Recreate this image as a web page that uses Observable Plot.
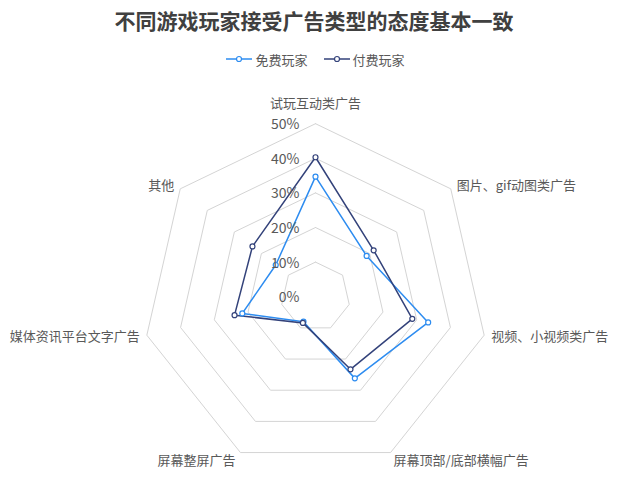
<!DOCTYPE html>
<html><head><meta charset="utf-8">
<script src="https://cdn.jsdelivr.net/npm/d3@7"></script>
<script src="https://cdn.jsdelivr.net/npm/@observablehq/plot@0.6"></script>
<style>
body{margin:0;background:#fff;font-family:"Noto Sans CJK SC","Noto Sans",sans-serif;width:623px;overflow:hidden;}
#title{height:40px;line-height:40px;text-align:center;font-size:21px;font-weight:bold;color:#404040;padding-left:5px;box-sizing:border-box;}
#legend{height:38px;display:flex;justify-content:center;align-items:center;font-size:13px;color:#595959;padding-left:8px;box-sizing:border-box;}
.item{display:flex;align-items:center;margin:0 8px;}
.item svg{margin-right:3px;}
#chart svg{display:block;}
</style>
</head><body>
<div id="title">不同游戏玩家接受广告类型的态度基本一致</div>
<div id="legend"></div>
<div id="chart"></div>
<script>
const categories = ["试玩互动类广告","图片、gif动图类广告","视频、小视频类广告","屏幕顶部/底部横幅广告","屏幕整屏广告","媒体资讯平台文字广告","其他"];
const freeValues = [34.7, 18.9, 33.4, 26.2, 8.0, 21.7, 14.7];
const paidValues = [40.3, 21.5, 28.7, 23.3, 8.4, 24.0, 23.3];
const seriesNames = ["免费玩家","付费玩家"];
const seriesColors = ["#2d8cf0","#33427a"];
const ringLevels = [10,20,30,40,50];
const tickValues = [0,10,20,30,40,50];
const tickLabels = ["0%","10%","20%","30%","40%","50%"];

// legend
const legend = document.getElementById("legend");
seriesNames.forEach((s,i) => {
  const it = document.createElement("div");
  it.className = "item";
  it.innerHTML = `<svg width="26" height="10"><line x1="0" x2="26" y1="5" y2="5" stroke="${seriesColors[i]}" stroke-width="1.5"/><circle cx="13" cy="5" r="2.5" fill="white" stroke="${seriesColors[i]}" stroke-width="1.2"/></svg><span>${s}</span>`;
  legend.appendChild(it);
});

const n = categories.length;
const ang = i => 2*Math.PI*i/n;
const px = (i,v) => v*Math.sin(ang(i));
const py = (i,v) => v*Math.cos(ang(i));
const maxR = d3.max(ringLevels);

const rings = ringLevels.flatMap(r => d3.range(n+1).map(i => ({r, x: px(i % n, r), y: py(i % n, r)})));
const series = [[seriesNames[0], freeValues],[seriesNames[1], paidValues]]
  .flatMap(([s, vals]) => vals.map((v,i) => ({series: s, category: categories[i], x: px(i,v), y: py(i,v)})));
const labelData = categories.map((c,i) => ({category: c, x: px(i,maxR), y: py(i,maxR)}));
const labelStyle = [
  {textAnchor:"middle", dx:0, dy:-20},
  {textAnchor:"start", dx:6, dy:-3},
  {textAnchor:"start", dx:7, dy:2},
  {textAnchor:"start", dx:3, dy:8},
  {textAnchor:"end", dx:-5, dy:8},
  {textAnchor:"end", dx:-7, dy:2},
  {textAnchor:"end", dx:-6, dy:-3}
];

const W = 623, H = 402, cx = 315, cy = 218.2, R = 173;
const plot = Plot.plot({
  width: W, height: H,
  marginLeft: cx - R, marginRight: W - (cx + R),
  marginTop: cy - R, marginBottom: H - (cy + R),
  x: {domain: [-maxR, maxR], axis: null},
  y: {domain: [-maxR, maxR], axis: null},
  color: {domain: seriesNames, range: seriesColors},
  style: {fontFamily: '"Noto Sans CJK SC","Noto Sans",sans-serif', fontSize: "13px", background: "white"},
  marks: [
    Plot.line(rings, {x: "x", y: "y", z: "r", stroke: "#d4d4d4", strokeWidth: 1}),
    Plot.line(series, {x: "x", y: "y", z: "series", stroke: "series", curve: "linear-closed", strokeWidth: 1.5}),
    Plot.dot(series, {x: "x", y: "y", stroke: "series", fill: "white", r: 2.5, strokeWidth: 1.2}),
    Plot.text(tickValues, {x: () => 0, y: d => d, text: (d,i) => tickLabels[i], textAnchor: "end", dx: -16, dy: 1, fill: "#595959", fontSize: 14}),
    ...labelData.map((d,i) => Plot.text([d], {x: "x", y: "y", text: "category", fill: "#595959", fontSize: 13, ...labelStyle[i]}))
  ]
});
document.getElementById("chart").appendChild(plot);
</script>
</body></html>
